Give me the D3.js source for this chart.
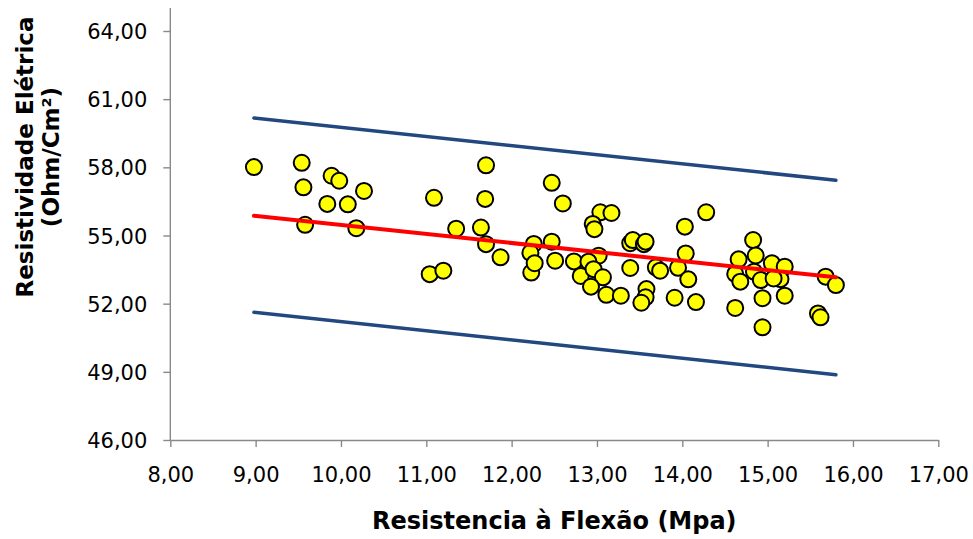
<!DOCTYPE html>
<html>
<head>
<meta charset="utf-8">
<script src="https://cdn.jsdelivr.net/npm/d3@7"></script>
<style>
  html, body { margin: 0; padding: 0; background: #fff; }
  svg text { font-family: "DejaVu Sans", Verdana, sans-serif; }
</style>
</head>
<body>
<svg id="chart" width="973" height="539"></svg>
<script>
// ---- data ----
const flexao = [
  8.98, 9.54, 9.56, 9.89, 9.98, 10.27, 9.84, 10.08, 9.58, 10.18,
  11.09, 11.70, 11.69, 11.35, 11.64, 11.70, 11.87, 11.04, 11.20,
  12.26, 12.22, 12.23, 12.27, 12.47, 12.47, 12.51, 12.60, 12.73, 12.81,
  13.04, 13.17, 12.95, 12.97, 13.02, 12.90, 12.96, 13.07, 12.93, 13.11, 13.28,
  13.39, 13.42, 13.55, 13.57, 13.39, 13.69, 13.74, 13.58, 13.57, 13.52,
  14.03, 14.28, 14.04, 13.95, 14.07, 13.91, 14.16,
  14.83, 14.86, 14.66, 14.62, 14.68, 14.84, 14.92, 15.05, 15.20, 15.15, 15.07,
  14.94, 15.20, 14.62, 14.94, 15.68, 15.80, 15.59, 15.62
];
const resistividade = [
  58.01, 58.20, 57.12, 57.63, 57.41, 56.96, 56.39, 56.37, 55.47, 55.32,
  56.66, 58.09, 56.61, 55.30, 55.35, 54.62, 54.04, 53.30, 53.45,
  54.63, 54.24, 53.37, 53.78, 57.32, 54.73, 53.89, 56.41, 53.86, 53.22,
  56.02, 55.99, 55.51, 55.28, 54.11, 53.85, 53.52, 53.16, 52.75, 52.39, 52.35,
  54.66, 54.80, 54.62, 54.73, 53.57, 53.60, 53.45, 52.64, 52.28, 52.04,
  55.39, 56.02, 54.21, 53.58, 53.07, 52.26, 52.07,
  54.80, 54.12, 53.95, 53.31, 52.97, 53.41, 53.04, 53.78, 53.63, 53.08, 53.11,
  52.24, 52.35, 51.81, 50.96, 53.19, 52.82, 51.57, 51.40
];
// fitted line and band end points
const lineX = [8.98, 15.80];
const trendY = [55.87, 53.16];
const upperY = [60.17, 57.43];
const lowerY = [51.62, 48.87];
// ticks
const xTicks = [8, 9, 10, 11, 12, 13, 14, 15, 16, 17];
const yTicks = [46, 49, 52, 55, 58, 61, 64];
const xTitle = "Resistencia à Flexão (Mpa)";
const yTitle = ["Resistividade Elétrica", "(Ohm/Cm²)"];

// ---- drawing ----
const svg = d3.select("#chart");
const L = 170.3, R = 938.3, T = 31, B = 440;
const x = d3.scaleLinear().domain([8, 17]).range([L, R]);
const y = d3.scaleLinear().domain([46, 64]).range([B, T]);
const fmt = d => d.toFixed(2).replace(".", ",");
const axisColor = "#898989";

const gx = svg.append("g").attr("transform", `translate(0,${B})`)
  .call(d3.axisBottom(x).tickValues(xTicks).tickFormat(fmt).tickSize(7).tickSizeOuter(0));
const gy = svg.append("g").attr("transform", `translate(${L},0)`)
  .call(d3.axisLeft(y).tickValues(yTicks).tickFormat(fmt).tickSize(7).tickSizeOuter(0));
[gx, gy].forEach(g => {
  g.select(".domain").attr("stroke", axisColor).attr("stroke-width", 1.4);
  g.selectAll(".tick line").attr("stroke", axisColor).attr("stroke-width", 1.4);
  g.selectAll(".tick text").attr("fill", "#000").style("font-size", "21px")
    .style("font-family", "'DejaVu Sans', Verdana, sans-serif");
});
gx.selectAll(".tick text").attr("y", 42).attr("dy", null);
gy.selectAll(".tick text").attr("x", -23).attr("dy", "0.36em");
// extend y-axis line to top
gy.select(".domain").attr("d", `M0,${B}V${T - 23}`);

// points
const pts = flexao.map((v, i) => ({ x: v, y: resistividade[i] }));
svg.append("g").selectAll("circle").data(pts).join("circle")
  .attr("cx", d => x(d.x)).attr("cy", d => y(d.y)).attr("r", 8)
  .attr("fill", "#FFFF00").attr("stroke", "#000").attr("stroke-width", 2);

// lines
const line = d3.line().x(d => x(d[0])).y(d => y(d[1]));
const mk = ys => lineX.map((v, i) => [v, ys[i]]);
svg.append("path").attr("d", line(mk(upperY))).attr("fill", "none")
  .attr("stroke", "#22487F").attr("stroke-width", 3.5).attr("stroke-linecap", "round");
svg.append("path").attr("d", line(mk(lowerY))).attr("fill", "none")
  .attr("stroke", "#22487F").attr("stroke-width", 3.5).attr("stroke-linecap", "round");
svg.append("path").attr("d", line(mk(trendY))).attr("fill", "none")
  .attr("stroke", "#FF0000").attr("stroke-width", 4).attr("stroke-linecap", "round");

// titles
svg.append("text").attr("x", (L + R) / 2).attr("y", 529).attr("text-anchor", "middle")
  .style("font-size", "24px").style("font-weight", "bold").text(xTitle);
const yt = svg.append("text").attr("transform", "translate(33,157) rotate(-90)")
  .attr("text-anchor", "middle").style("font-size", "23px").style("font-weight", "bold");
yt.append("tspan").attr("x", 0).attr("y", 0).text(yTitle[0]);
yt.append("tspan").attr("x", 0).attr("y", 26).text(yTitle[1]);
</script>
</body>
</html>
